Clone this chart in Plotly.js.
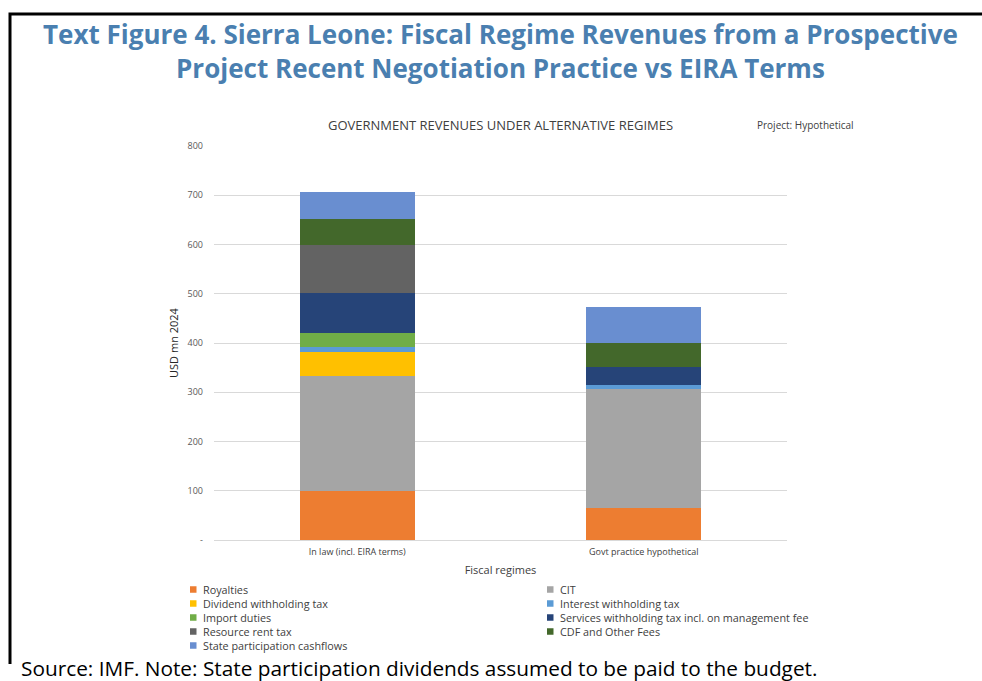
<!DOCTYPE html>
<html>
<head>
<meta charset="utf-8">
<script src="https://cdn.plot.ly/plotly-3.0.1.min.js"></script>
<style>
html,body{margin:0;padding:0;background:#fff;}
#chart{width:982px;height:681px;}
</style>
</head>
<body>
<div id="chart"></div>
<script>
// ---- data ----
const categories = ["In law (incl. EIRA terms)", "Govt practice hypothetical"];
const seriesNames = [
  "Royalties", "CIT", "Dividend withholding tax", "Interest withholding tax",
  "Import duties", "Services withholding tax incl. on management fee",
  "Resource rent tax", "CDF and Other Fees", "State participation cashflows"
];
const royalties      = [100, 66];
const cit            = [232, 241];
const dividendWht    = [49, 0];
const interestWht    = [11, 8];
const importDuties   = [28, 0];
const servicesWht    = [81, 36];
const resourceRent   = [99, 0];
const cdfFees        = [52, 50];
const stateCashflows = [54, 72];
const seriesValues = [royalties, cit, dividendWht, interestWht, importDuties,
  servicesWht, resourceRent, cdfFees, stateCashflows];
const seriesColors = ["#ED7D31", "#A5A5A5", "#FFC000", "#5B9BD5", "#70AD47",
  "#264478", "#636363", "#43682B", "#698ED0"];
const yTickVals = [0, 100, 200, 300, 400, 500, 600, 700, 800];
const yTickText = ["-", "100", "200", "300", "400", "500", "600", "700", "800"];

// ---- geometry helpers (plot area in px) ----
const W = 982, H = 681;
const PL = 214, PR = 787, PT = 146, PB = 540;
const px = x => (x - PL) / (PR - PL);
const py = y => (PB - y) / (PB - PT);

const FONT = "Open Sans, Noto Sans, sans-serif";

const traces = seriesNames.map((n, i) => ({
  type: "bar",
  name: n,
  x: categories,
  y: seriesValues[i],
  marker: {color: seriesColors[i], line: {width: 0}},
  showlegend: false,
  hoverinfo: "name+y"
}));

const annotations = [
  {text: "<b>Text Figure 4. Sierra Leone: Fiscal Regime Revenues from a Prospective<br>Project Recent Negotiation Practice vs EIRA Terms</b>",
   x: px(500), y: py(51), xref: "paper", yref: "paper", showarrow: false,
   xanchor: "center", yanchor: "middle", align: "center",
   font: {family: FONT, size: 26, color: "#4A7FB0"}},
  {text: "GOVERNMENT REVENUES UNDER ALTERNATIVE REGIMES",
   x: px(500), y: py(125), xref: "paper", yref: "paper", showarrow: false,
   xanchor: "center", yanchor: "middle", font: {family: FONT, size: 13, color: "#404040"}},
  {text: "Project: Hypothetical",
   x: px(755), y: py(125), xref: "paper", yref: "paper", showarrow: false,
   xanchor: "left", yanchor: "middle", font: {family: FONT, size: 10, color: "#404040"}},
  {text: "Source: IMF. Note: State participation dividends assumed to be paid to the budget.",
   x: px(20), y: py(667.5), xref: "paper", yref: "paper", showarrow: false, borderpad: 0,
   xanchor: "left", yanchor: "middle", font: {family: FONT, size: 20.8, color: "#000000"}}
];

const shapes = [
  {type: "path", xref: "paper", yref: "paper",
   path: `M ${px(10)} ${py(664)} L ${px(10)} ${py(14)} L ${px(1000)} ${py(14)}`,
   line: {color: "#000", width: 3}}
];

// custom legend (two columns, row-major order)
const legColSq = [190, 547], legColTx = [202, 559];
const legRow0 = 589.5, legRowStep = 14;
seriesNames.forEach((n, i) => {
  const col = i % 2, row = Math.floor(i / 2);
  const yc = legRow0 + row * legRowStep;
  shapes.push({type: "rect", xref: "paper", yref: "paper",
    x0: px(legColSq[col]), x1: px(legColSq[col] + 6.5),
    y0: py(yc - 3.25), y1: py(yc + 3.25),
    fillcolor: seriesColors[i], line: {width: 0}});
  annotations.push({text: n, x: px(legColTx[col]), y: py(yc), xref: "paper", yref: "paper",
    showarrow: false, xanchor: "left", yanchor: "middle", borderpad: 0,
    font: {family: FONT, size: 10.8, color: "#404040"}});
});

const layout = {
  width: W, height: H,
  margin: {l: PL, r: W - PR, t: PT, b: H - PB, pad: 0},
  paper_bgcolor: "#fff", plot_bgcolor: "#fff",
  barmode: "stack",
  bargap: 0.6,
  showlegend: false,
  font: {family: FONT, color: "#595959"},
  xaxis: {
    type: "category",
    range: [-0.5, 1.5],
    showgrid: false, zeroline: false, showline: false, ticks: "",
    tickfont: {family: FONT, size: 9, color: "#404040"},
    ticklabelstandoff: 5,
    title: {text: "Fiscal regimes", font: {family: FONT, size: 11, color: "#404040"}, standoff: 9}
  },
  yaxis: {
    range: [0, 800],
    tickvals: yTickVals, ticktext: yTickText,
    showgrid: true, gridcolor: "#D9D9D9", gridwidth: 1,
    zeroline: true, zerolinecolor: "#D9D9D9", zerolinewidth: 1,
    showline: false, ticks: "",
    tickfont: {family: FONT, size: 9, color: "#595959"},
    ticklabelstandoff: 10,
    title: {text: "USD mn 2024", font: {family: FONT, size: 11, color: "#262626"}, standoff: 6}
  },
  annotations: annotations,
  shapes: shapes
};

Plotly.newPlot("chart", traces, layout, {displayModeBar: false});
</script>
</body>
</html>
